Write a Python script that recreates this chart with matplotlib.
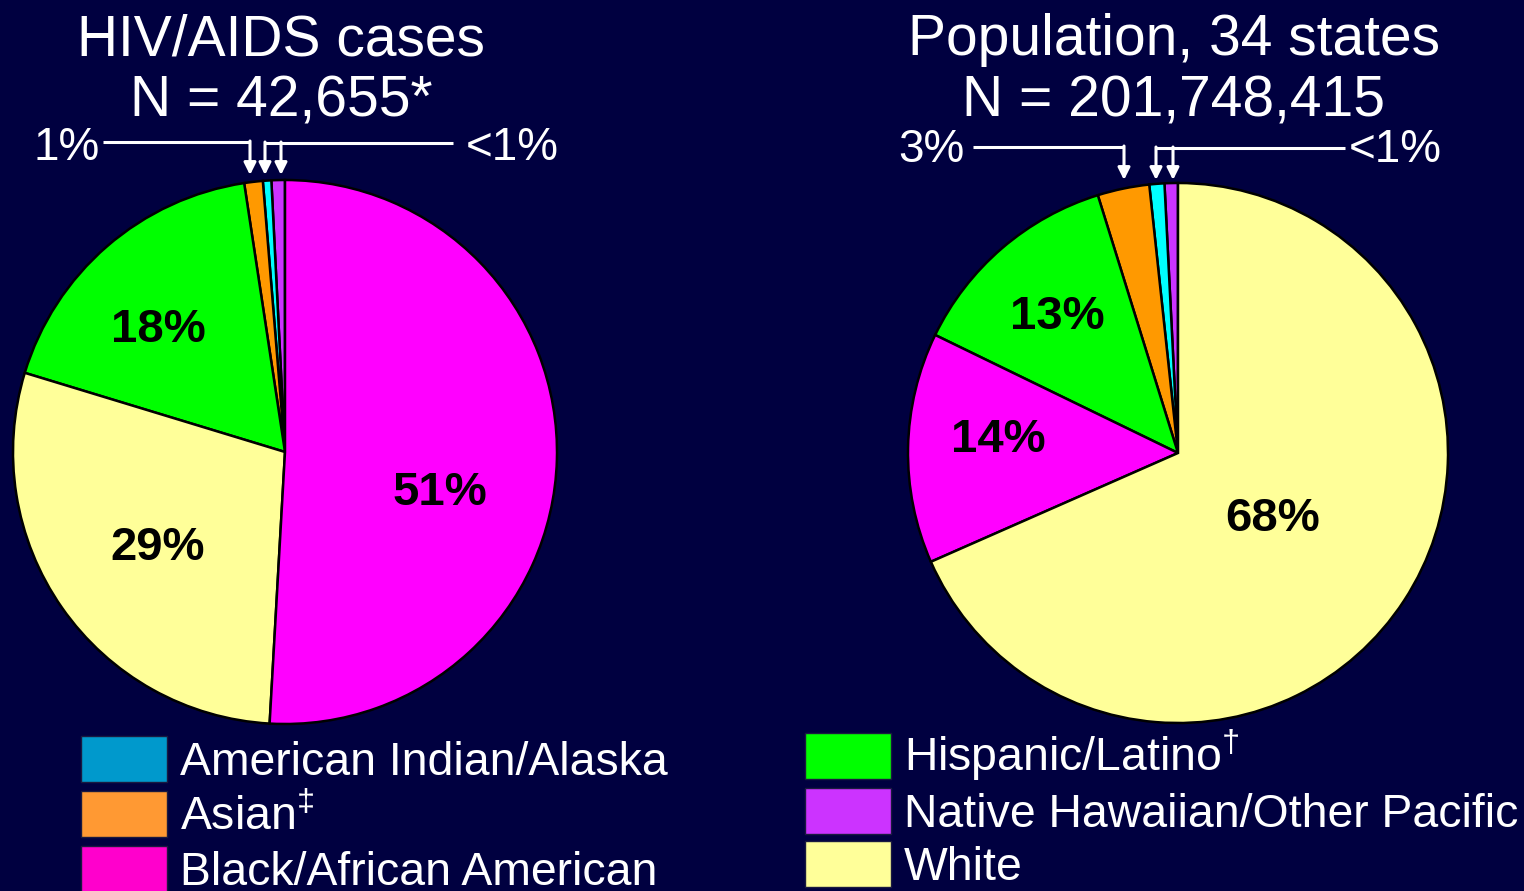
import matplotlib
matplotlib.use("Agg")
import matplotlib.pyplot as plt
from matplotlib.patches import Patch

W, H = 1524, 891
BG = '#000040'
FONT = 'Liberation Sans'

plt.rcParams['mathtext.fontset'] = 'custom'
plt.rcParams['mathtext.rm'] = FONT
plt.rcParams['mathtext.default'] = 'regular'

# data: race/ethnicity shares (%), ordered counterclockwise from 12 o'clock
cases_groups = ['NHOPI', 'AIAN', 'Asian', 'Hispanic', 'White', 'Black']
cases_pct = [0.8, 0.5, 1.1, 17.9, 28.8, 50.9]
pop_groups = ['NHOPI', 'AIAN', 'Asian', 'Hispanic', 'Black', 'White']
pop_pct = [0.8, 0.9, 3.1, 13.0, 13.8, 68.4]

cases_labels = {'Hispanic': '18%', 'White': '29%', 'Black': '51%'}
pop_labels = {'Hispanic': '13%', 'Black': '14%', 'White': '68%'}

slice_colors = {'NHOPI': '#CC33FF', 'AIAN': '#00FFFF', 'Asian': '#FF9900',
                'Hispanic': '#00FF00', 'White': '#FFFF99', 'Black': '#FF00FF'}

legend_left = ['American Indian/Alaska', 'Asian$^{\u2021}$', 'Black/African American']
legend_left_colors = ['#0099CC', '#FF9933', '#FF00CC']
legend_right = ['Hispanic/Latino$^{\u2020}$', 'Native Hawaiian/Other Pacific', 'White']
legend_right_colors = ['#00FF00', '#CC33FF', '#FFFF99']


def Y(py):
    # pixel row (from top) -> data y
    return H - py


fig = plt.figure(figsize=(W / 100, H / 100), dpi=100, facecolor=BG)
ax = fig.add_axes([0, 0, 1, 1])
ax.set_facecolor(BG)

# pies
ax.pie(cases_pct, colors=[slice_colors[g] for g in cases_groups],
       startangle=90, counterclock=True, center=(285, Y(452)), radius=272,
       wedgeprops=dict(edgecolor='black', linewidth=1.8), frame=True)
ax.pie(pop_pct, colors=[slice_colors[g] for g in pop_groups],
       startangle=90, counterclock=True, center=(1178, Y(453)), radius=270,
       wedgeprops=dict(edgecolor='black', linewidth=1.8), frame=True)
ax.set_xlim(0, W)
ax.set_ylim(0, H)
ax.set_aspect('equal')
ax.axis('off')

# in-slice labels (baseline positions)
cases_label_pos = {'Hispanic': (158, 342), 'White': (158, 560), 'Black': (440, 505)}
pop_label_pos = {'Hispanic': (1057, 329), 'Black': (998, 452), 'White': (1273, 531)}
for labels, pos in [(cases_labels, cases_label_pos), (pop_labels, pop_label_pos)]:
    for g, txt in labels.items():
        x, y = pos[g]
        ax.text(x, Y(y), txt, fontsize=34, fontweight='bold', family=FONT,
                color='black', ha='center', va='baseline')

# titles
for x, l1, l2 in [(281, 'HIV/AIDS cases', 'N = 42,655*'),
                  (1174, 'Population, 34 states', 'N = 201,748,415')]:
    ax.text(x, Y(55), l1, fontsize=41, family=FONT, color='white',
            ha='center', va='baseline')
    ax.text(x, Y(117), l2, fontsize=41, family=FONT, color='white',
            ha='center', va='baseline')

# small-slice callouts
lw = 2.2
def callout(xs_line, y_line, x_drops, tip):
    ax.plot(xs_line, [Y(y_line)] * 2, color='white', lw=lw, solid_capstyle='butt')
    for xd in x_drops:
        ax.annotate('', xy=(xd, Y(tip)), xytext=(xd, Y(y_line) + 1),
                    arrowprops=dict(arrowstyle='-|>', color='white', lw=lw,
                                    mutation_scale=18, shrinkA=0, shrinkB=0))

callout([103, 250], 142, [250], 175)
callout([265, 453], 143, [265, 281], 175)
callout([973, 1124], 147, [1124], 180)
callout([1156, 1345], 148, [1156, 1173], 180)

ax.text(100, Y(160), '1%', fontsize=33, family=FONT, color='white', ha='right', va='baseline')
ax.text(466, Y(160), '<1%', fontsize=33, family=FONT, color='white', ha='left', va='baseline')
ax.text(965, Y(162), '3%', fontsize=33, family=FONT, color='white', ha='right', va='baseline')
ax.text(1349, Y(162), '<1%', fontsize=33, family=FONT, color='white', ha='left', va='baseline')

# legends
def make_legend(names, colors, x, ytop, size, spacing):
    handles = [Patch(facecolor=c, edgecolor='#1a1a40', linewidth=1) for c in colors]
    leg = ax.legend(handles, names, loc='upper left', bbox_to_anchor=(x, Y(ytop)),
                    bbox_transform=ax.transData, frameon=False, borderpad=0,
                    borderaxespad=0, handlelength=86 / (size * 100 / 72),
                    handleheight=1.15, handletextpad=0.28, labelspacing=spacing,
                    prop=dict(family=FONT, size=size), labelcolor='white')
    return leg

leg1 = make_legend(legend_left, legend_left_colors, 81, 736, 33.4, 0.14)
ax.add_artist(leg1)
leg2 = make_legend(legend_right, legend_right_colors, 805, 728, 33.4, 0.10)

fig.savefig('out.png', dpi=100, facecolor=BG)
